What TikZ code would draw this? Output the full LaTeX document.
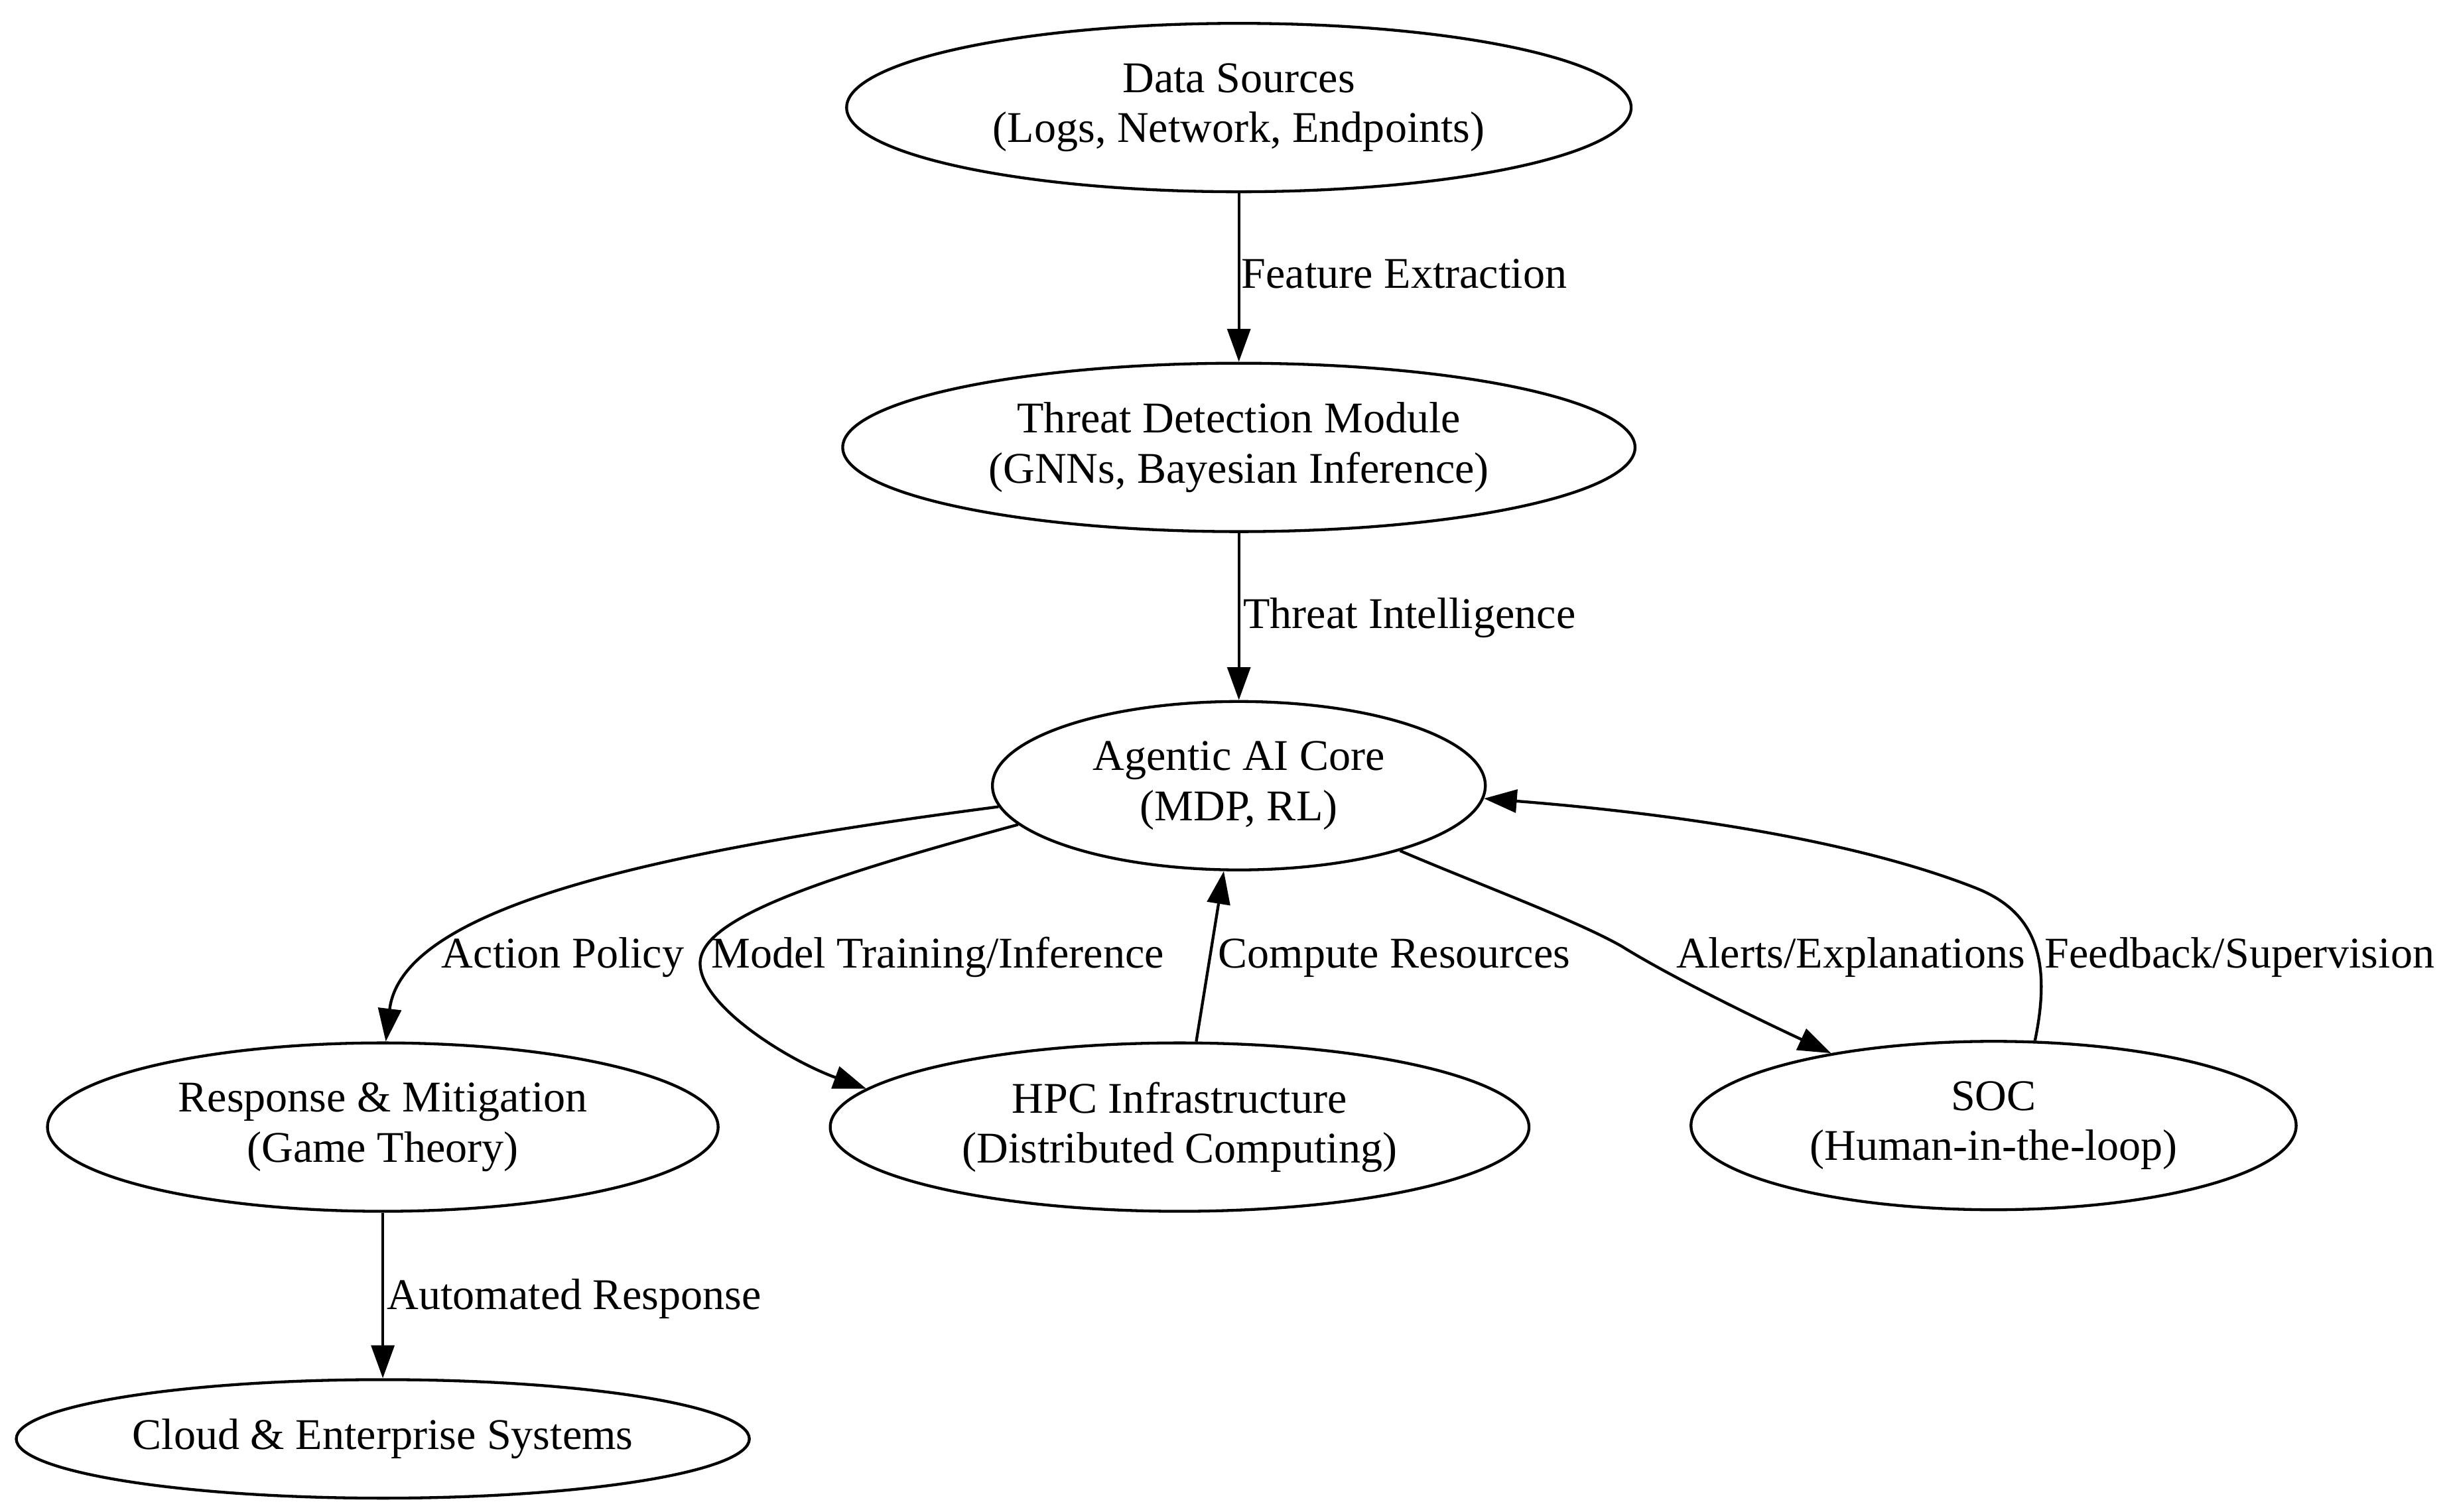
\documentclass[tikz,border=0pt]{standalone}
\usepackage{fontspec}
\setmainfont{Liberation Serif}
\usetikzlibrary{arrows.meta,shapes.geometric}
\begin{document}
\begin{tikzpicture}[x=0.025cm,y=-0.025cm,
  every node/.style={font=\fontsize{20pt}{22.8pt}\selectfont},
  nd/.style={draw, ellipse, line width=1.3pt, inner sep=0pt, align=center, minimum height=2.7cm},
  lbl/.style={anchor=base west, inner sep=0pt},
  conn/.style={line width=1.3pt, -{Triangle[length=15pt,width=10.5pt]}}]
\useasboundingbox (0,0) rectangle (1568,969.9);

% nodes
\node[nd, minimum width=12.575cm] (data) at (794.5,69) {Data Sources\\(Logs, Network, Endpoints)};
\node[nd, minimum width=12.7cm] (threat) at (794.5,287) {Threat Detection Module\\(GNNs, Bayesian Inference)};
\node[nd, minimum width=7.9cm] (agentic) at (794.5,504) {Agentic AI Core\\(MDP, RL)};
\node[nd, minimum width=10.75cm] (response) at (245.5,723) {Response \& Mitigation\\(Game Theory)};
\node[nd, minimum width=11.2cm] (hpc) at (756.5,723) {HPC Infrastructure\\(Distributed Computing)};
\node[nd, minimum width=9.7cm] (soc) at (1278.5,722) {SOC\\(Human-in-the-loop)};
\node[nd, minimum width=11.75cm, minimum height=1.9cm] (cloud) at (245.5,923) {Cloud \& Enterprise Systems};

% connectors
\draw[conn] (data) -- (threat);
\draw[conn] (threat) -- (agentic);
\draw[conn] (agentic.185) .. controls (430,545) and (258,580) .. (response.88);
\draw[conn] (agentic.190) .. controls (520,565) and (449,590) .. (449,618)
  .. controls (449,645) and (505,680) .. (hpc.173);
\draw[conn] (hpc.79) -- (agentic.260);
\draw[conn] (agentic.-22) .. controls (950,568) and (1010,590) .. (1040,607)
  .. controls (1072,627) and (1130,655) .. (soc.156);
\draw[conn] (soc.64) .. controls (1316,615) and (1305,585) .. (1268,570)
  .. controls (1180,535) and (1050,520) .. (agentic.-3);
\draw[conn] (response) -- (cloud);

% labels
\node[lbl] (l1) at (796,185) {Feature Extraction};
\node[lbl] (l2) at (797,403) {Threat Intelligence};
\node[lbl] (l3) at (283,621) {Action Policy};
\node[lbl] (l4) at (456,621) {Model Training/Inference};
\node[lbl] (l5) at (781,621) {Compute Resources};
\node[lbl] (l6) at (1075,621) {Alerts/Explanations};
\node[lbl] (l7) at (1311,621) {Feedback/Supervision};
\node[lbl] (l8) at (248,840) {Automated Response};
\end{tikzpicture}
\end{document}
